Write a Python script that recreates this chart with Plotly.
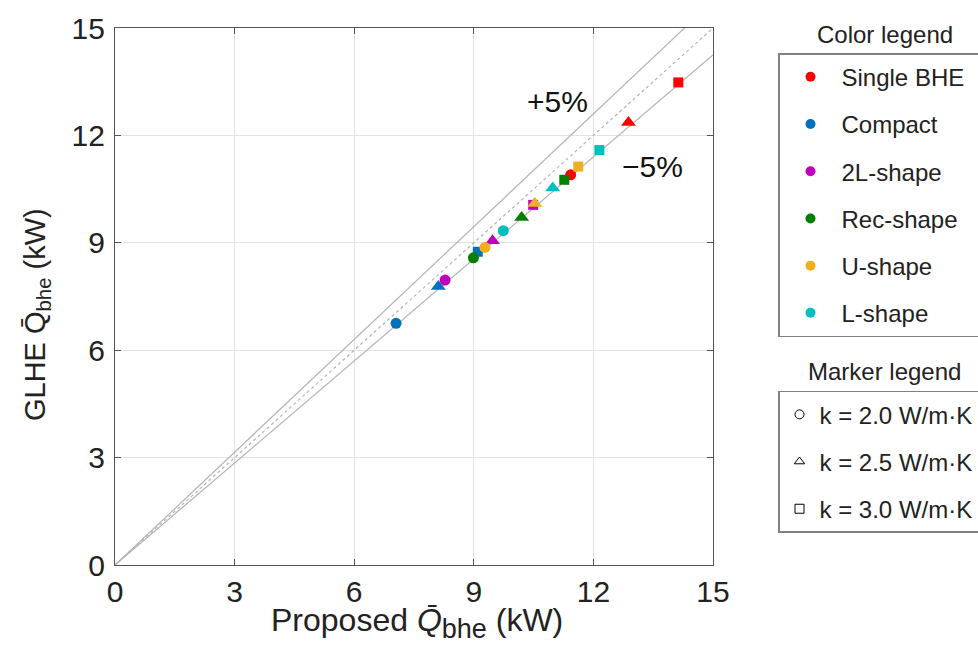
import plotly.graph_objects as go

# ---- data ----
groups = ["Single BHE", "Compact", "2L-shape", "Rec-shape", "U-shape", "L-shape"]
group_colors = ["#FF0000", "#0072BD", "#BF00BF", "#008000", "#EDB120", "#00BFBF"]
k_labels = ["k = 2.0 W/m·K", "k = 2.5 W/m·K", "k = 3.0 W/m·K"]
k_symbols = ["circle", "triangle-up", "square"]

# proposed Q (x) and GLHE Q (y); rows = groups, cols = k (2.0, 2.5, 3.0)
proposed_q = [
    [11.43, 12.88, 14.13],  # Single BHE
    [7.05, 8.11, 9.10],     # Compact
    [8.28, 9.47, 10.49],    # 2L-shape
    [8.99, 10.20, 11.27],   # Rec-shape
    [9.28, 10.53, 11.62],   # U-shape
    [9.74, 10.98, 12.15],   # L-shape
]
glhe_q = [
    [10.90, 12.36, 13.48],
    [6.75, 7.78, 8.75],
    [7.96, 9.06, 10.06],
    [8.58, 9.71, 10.76],
    [8.87, 10.10, 11.13],
    [9.34, 10.53, 11.59],
]

ref_x = [0, 15]
ref_ratios = [1.05, 1.0, 0.95]
ticks = [0, 3, 6, 9, 12, 15]

FONT = "Liberation Sans, Arial, Helvetica, sans-serif"
PAD = "\u00a0\u00a0"

fig = go.Figure()

# reference lines
for r in ref_ratios:
    fig.add_trace(go.Scatter(
        x=ref_x, y=[r * v for v in ref_x], mode="lines",
        line=dict(color="#b3b3b3", width=1.2, dash="dot" if r == 1.0 else "solid"),
        showlegend=False, hoverinfo="skip"))

# data points
sizes = {"circle": 11, "triangle-up": 13, "square": 10}
for gi, g in enumerate(groups):
    for ki, sym in enumerate(k_symbols):
        fig.add_trace(go.Scatter(
            x=[proposed_q[gi][ki]], y=[glhe_q[gi][ki]], mode="markers",
            marker=dict(symbol=sym, color=group_colors[gi], size=sizes[sym], line=dict(width=0)),
            showlegend=False, name=f"{g}, {k_labels[ki]}"))

# color legend entries
for gi, g in enumerate(groups):
    fig.add_trace(go.Scatter(
        x=[None], y=[None], mode="markers", name=g + PAD,
        marker=dict(symbol="circle", color=group_colors[gi], size=10),
        legend="legend", legendgroup=f"c{gi}", showlegend=True))

# marker legend entries
for ki, lab in enumerate(k_labels):
    fig.add_trace(go.Scatter(
        x=[None], y=[None], mode="markers", name=lab + "\u00a0",
        marker=dict(symbol=k_symbols[ki] + "-open", color="black", size=9, line=dict(width=1)),
        legend="legend2", legendgroup=f"k{ki}", showlegend=True))

axis_common = dict(
    range=[0, 15], tickvals=ticks, ticktext=[str(t) for t in ticks],
    showgrid=True, gridcolor="#e3e3e3", gridwidth=1,
    zeroline=False, showline=True, linecolor="#555555", linewidth=1.2,
    mirror="ticks", ticks="inside", ticklen=6, tickcolor="#555555",
    tickfont=dict(family=FONT, size=30, color="#222222"),
)

fig.update_layout(
    width=978, height=660,
    margin=dict(l=115, r=265, t=28, b=95, autoexpand=False),
    paper_bgcolor="white", plot_bgcolor="white",
    font=dict(family=FONT, color="#222222"),
    xaxis=dict(axis_common),
    yaxis=dict(axis_common, ticklabelstandoff=3),
    legend=dict(
        x=1.1087, y=0.953, xanchor="left", yanchor="top",
        bordercolor="#808080", borderwidth=1.5, bgcolor="white",
        font=dict(family=FONT, size=24, color="#222222"),
        traceorder="grouped", tracegroupgap=13, itemwidth=52,
    ),
    legend2=dict(
        x=1.1087, y=0.3245, xanchor="left", yanchor="top",
        bordercolor="#808080", borderwidth=1.5, bgcolor="white",
        font=dict(family=FONT, size=24, color="#222222"),
        traceorder="grouped", tracegroupgap=13, itemwidth=30,
    ),
    annotations=[
        # axis titles
        dict(text="Proposed <i>Q̄</i><sub><span style='font-size:27px'>bhe</span></sub>\u00a0(kW)",
             x=0.505, y=0, xref="paper", yref="paper", xanchor="center", yanchor="top",
             yshift=-35, showarrow=False,
             font=dict(family=FONT, size=32, color="#222222")),
        dict(text="GLHE Q̄<sub>bhe</sub> (kW)", textangle=-90,
             x=-0.1304, y=0.5028, xref="paper", yref="paper", xanchor="center", yanchor="middle",
             yshift=-20, showarrow=False, font=dict(family=FONT, size=29, color="#222222")),
        # legend titles
        dict(text="Color legend", x=1.2876, y=0.987, xref="paper", yref="paper",
             xanchor="center", yanchor="middle",
             showarrow=False, font=dict(family=FONT, size=24, color="#222222")),
        dict(text="Marker legend", x=1.2876, y=0.361, xref="paper", yref="paper",
             xanchor="center", yanchor="middle",
             showarrow=False, font=dict(family=FONT, size=24, color="#222222")),
        # band labels
        dict(text="+5%", x=11.09, y=12.96, xref="x", yref="y",
             xanchor="center", yanchor="middle",
             showarrow=False, font=dict(family=FONT, size=30, color="#111111")),
        dict(text="\u22125%", x=13.47, y=11.12, xref="x", yref="y",
             xanchor="center", yanchor="middle",
             showarrow=False, font=dict(family=FONT, size=30, color="#111111")),
    ],
)

fig.write_html("out.html")
